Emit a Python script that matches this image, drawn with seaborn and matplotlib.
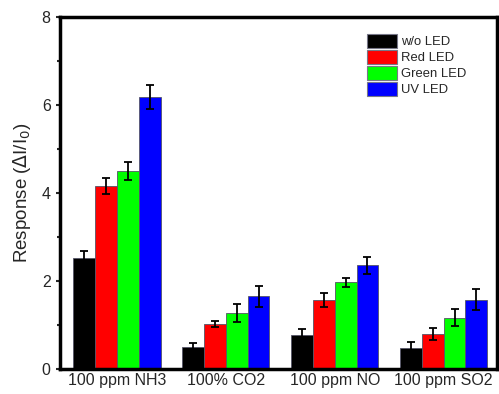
import matplotlib
matplotlib.use("Agg")
import matplotlib.pyplot as plt
import seaborn as sns
import pandas as pd
import numpy as np
from matplotlib.ticker import MultipleLocator

gases = ["100 ppm NH3", "100% CO2", "100 ppm NO", "100 ppm SO2"]
conditions = ["w/o LED", "Red LED", "Green LED", "UV LED"]
colors = ["#000000", "#ff0000", "#00ff00", "#0000ff"]

wo_led = [2.52, 0.50, 0.78, 0.48]
red_led = [4.16, 1.02, 1.57, 0.80]
green_led = [4.50, 1.28, 1.97, 1.17]
uv_led = [6.18, 1.66, 2.36, 1.58]

wo_err = [0.16, 0.10, 0.14, 0.13]
red_err = [0.18, 0.07, 0.15, 0.13]
green_err = [0.20, 0.20, 0.10, 0.20]
uv_err = [0.28, 0.24, 0.19, 0.24]

vals = [wo_led, red_led, green_led, uv_led]
errs = [wo_err, red_err, green_err, uv_err]

rows = []
for c, v, e in zip(conditions, vals, errs):
    for g, vv, ee in zip(gases, v, e):
        rows.append({"gas": g, "cond": c, "val": vv, "err": ee})
df = pd.DataFrame(rows)

sns.set_style("white")
plt.rcParams["font.family"] = ["Liberation Sans", "DejaVu Sans"]

fig = plt.figure(figsize=(4.99, 3.94), dpi=100)
ax = fig.add_axes([0.121, 0.063, 0.875, 0.894])

sns.barplot(data=df, x="gas", y="val", hue="cond", order=gases,
            hue_order=conditions, palette=colors, errorbar=None, saturation=1,
            width=0.8, edgecolor="#555566", linewidth=0.6, ax=ax)

# error bars at the bar centres
for ci, c in enumerate(conditions):
    cont = ax.containers[ci]
    xs = [p.get_x() + p.get_width() / 2 for p in cont.patches]
    ax.errorbar(xs, vals[ci], yerr=errs[ci], fmt="none", ecolor="black",
                elinewidth=1.3, capsize=3, capthick=1.3, zorder=5)

ax.set_ylim(0, 8)
ax.set_xlim(-0.52, 3.49)
ax.yaxis.set_major_locator(MultipleLocator(2))
ax.yaxis.set_minor_locator(MultipleLocator(1))
ax.set_xlabel("")
ax.set_ylabel(r"Response ($\Delta$I/I$_0$)", fontsize=13.5, labelpad=6)
ax.tick_params(axis="y", which="major", direction="out", length=3, width=1.5,
               labelsize=11.5, left=True, pad=4)
ax.tick_params(axis="y", which="minor", direction="out", length=2, width=1.5, left=True)
ax.tick_params(axis="x", which="both", length=0, labelsize=11.5, pad=3)
for s in ax.spines.values():
    s.set_linewidth(2.5)
    s.set_color("black")

leg = ax.legend(loc="upper right", bbox_to_anchor=(0.947, 0.975), frameon=False,
                fontsize=9.4, handlelength=2.3, handleheight=1.3,
                handletextpad=0.25, labelspacing=0.12, borderaxespad=0.2)
for h in leg.legend_handles:
    h.set_edgecolor("#777788")
    h.set_linewidth(0.8)

fig.savefig("out.png", dpi=100)
